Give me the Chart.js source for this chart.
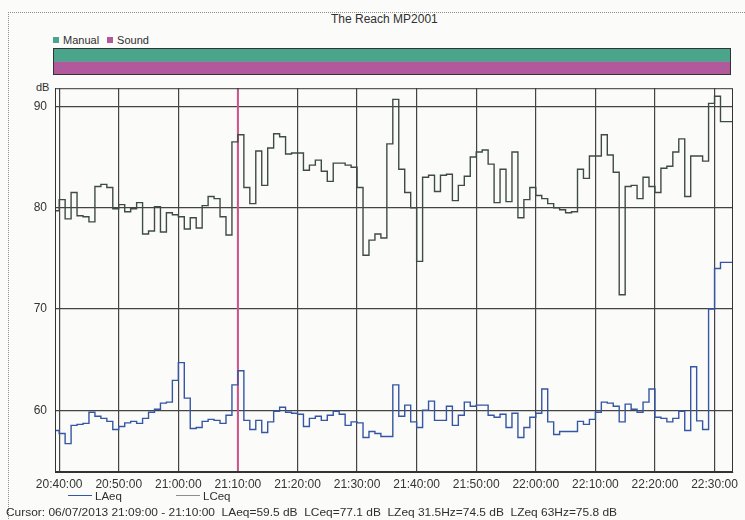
<!DOCTYPE html>
<html lang="en">
<head>
<meta charset="UTF-8" />
<title>The Reach MP2001</title>
<script src="https://cdn.jsdelivr.net/npm/chart.js"></script>
<style>
  html, body { margin: 0; padding: 0; background: #fbfbfa; }
  body {
    width: 745px; height: 520px; position: relative; overflow: hidden;
    font-family: "Liberation Sans", Arial, sans-serif; color: #2f2f2f;
  }
  #frame {
    position: absolute; left: 8px; top: 12px; width: 760px; height: 520px;
    border-top: 1px dotted #8c8c8c; border-left: 1px dotted #8c8c8c;
  }
  #title { position: absolute; left: 331px; top: 12px; font-size: 12px; }
  #bandLegend { position: absolute; left: 53px; top: 34px; font-size: 11px; }
  #bandLegend span.item { margin-right: 8px; }
  #bandLegend i {
    display: inline-block; width: 6px; height: 6px; margin-right: 4px;
    vertical-align: 1px;
  }
  #bandBox { position: absolute; left: 0; top: 47px; width: 745px; height: 29px; }
  #dbLabel { position: absolute; left: 36px; top: 81px; font-size: 11px; }
  #plotBox { position: absolute; left: 0; top: 73px; width: 745px; height: 427px; }
  #legend { position: absolute; left: 0; top: 490px; width: 745px; height: 14px; font-size: 11.5px; }
  #legend .item { position: absolute; top: 0; white-space: nowrap; }
  #legend b { display: inline-block; width: 24px; height: 0; vertical-align: 4px; margin-right: 3px; }
  #cursor {
    position: absolute; left: 6px; top: 506px; font-size: 11.5px;
    white-space: nowrap; transform-origin: 0 0;
  }
</style>
</head>
<body>
  <div id="frame"></div>
  <div id="title">The Reach MP2001</div>
  <div id="bandLegend"></div>
  <div id="bandBox"><canvas id="band"></canvas></div>
  <div id="dbLabel">dB</div>
  <div id="plotBox"><canvas id="plot"></canvas></div>
  <div id="legend"></div>
  <div id="cursor">Cursor: 06/07/2013 21:09:00 - 21:10:00&nbsp; LAeq=59.5 dB&nbsp; LCeq=77.1 dB&nbsp; LZeq 31.5Hz=74.5 dB&nbsp; LZeq 63Hz=75.8 dB</div>

<script>
  // minutes are counted from 20:40:00; first reading is the 20:39 minute
  const firstMinute = -1;
  const xMin = -0.7, xMax = 113.1;
  const yMin = 53.9, yMax = 91.8;

  const xTickMinutes = [0, 10, 20, 30, 40, 50, 60, 70, 80, 90, 100, 110];
  const xTickLabels = ["20:40:00", "20:50:00", "21:00:00", "21:10:00", "21:20:00", "21:30:00",
                       "21:40:00", "21:50:00", "22:00:00", "22:10:00", "22:20:00", "22:30:00"];
  const yTicks = [60, 70, 80, 90];
  const cursorMinute = 30; // 21:10:00

  // one value per minute, 20:39 .. 22:32
  const lcEq = [
    76.8,
    79.7, 80.8, 78.9, 81.5, 79.2, 79.1, 78.6, 82.1, 82.3, 82.0,
    79.9, 80.3, 79.6, 79.9, 80.5, 77.4, 77.7, 80.1, 77.6, 79.5,
    79.3, 79.1, 77.9, 79.0, 78.0, 80.2, 81.1, 80.9, 79.1, 77.3,
    86.5, 87.2, 82.0, 80.4, 85.6, 82.2, 85.9, 87.3, 87.0, 85.3,
    85.4, 85.4, 83.7, 84.2, 84.7, 83.6, 82.6, 84.4, 84.4, 84.2,
    84.0, 82.0, 75.3, 76.8, 77.4, 77.0, 86.3, 90.7, 83.8, 81.5,
    80.0, 74.7, 83.0, 83.2, 81.6, 83.2, 83.3, 80.7, 82.2, 83.1,
    85.0, 85.5, 85.7, 84.3, 80.5, 83.8, 80.6, 85.5, 79.0, 80.8,
    82.0, 81.2, 80.9, 80.4, 80.0, 79.8, 79.5, 79.6, 83.8, 82.9,
    85.1, 85.1, 87.2, 85.2, 83.5, 71.4, 82.1, 82.2, 80.9, 83.0,
    82.1, 81.5, 83.9, 84.1, 85.5, 86.8, 81.1, 85.1, 85.1, 84.6,
    90.3, 91.0, 88.5
  ];
  const laEq = [
    59.7,
    58.0, 57.7, 56.7, 58.5, 58.6, 58.7, 59.8, 59.4, 59.2, 58.9,
    58.1, 58.4, 58.75, 58.9, 58.7, 59.2, 59.8, 60.1, 60.7, 60.8,
    62.95, 64.7, 61.2, 58.2, 58.3, 58.9, 59.1, 59.0, 58.7, 59.5,
    62.5, 63.9, 59.0, 58.1, 59.0, 57.8, 58.85, 59.9, 60.3, 59.8,
    59.7, 59.6, 58.4, 59.2, 59.4, 59.0, 59.5, 59.9, 59.6, 58.5,
    58.85, 58.75, 57.3, 57.9, 57.7, 57.4, 57.4, 62.5, 59.4, 60.5,
    58.85, 58.3, 60.0, 60.9, 59.0, 59.0, 60.4, 58.5, 59.5, 60.8,
    60.4, 60.5, 60.5, 59.5, 59.3, 59.6, 58.3, 59.7, 57.3, 58.3,
    59.3, 59.7, 62.1, 58.85, 57.6, 57.9, 57.9, 57.9, 58.9, 58.6,
    59.1, 59.8, 60.8, 60.7, 60.4, 58.85, 60.6, 60.1, 59.8, 60.8,
    62.1, 59.3, 59.2, 58.85, 59.2, 59.9, 58.0, 64.3, 58.95, 58.1,
    70.0, 74.0, 74.6
  ];

  // status band: both rows cover the whole logged period
  const bandRows = ["Manual", "Sound"];
  const bandSpan = [firstMinute, firstMinute + lcEq.length];

  const gridColor = "#444";
  const laColor = "#3556a4";
  const lcColor = "#3e4b47";
  const manualColor = "#4aa58b";
  const soundColor = "#b2589d";
  const cursorColor = "#cf5485";
  const tickFont = { family: "'Liberation Sans', Arial, sans-serif", size: 12 };

  function toSteps(values) {
    const pts = values.map((v, i) => ({ x: firstMinute + i, y: v }));
    pts.push({ x: firstMinute + values.length, y: values[values.length - 1] });
    return pts;
  }

  const frameBox = {
    id: "frameBox",
    afterDraw(chart) {
      const a = chart.chartArea, c = chart.ctx;
      c.save();
      c.strokeStyle = "#333";
      c.lineWidth = 1;
      c.strokeRect(a.left + 0.5, a.top + 0.5, a.right - a.left - 1, a.bottom - a.top - 1);
      c.restore();
    }
  };

  const cursorLine = {
    id: "cursorLine",
    beforeDatasetsDraw(chart) {
      const a = chart.chartArea, c = chart.ctx;
      const x = chart.scales.x.getPixelForValue(cursorMinute);
      c.save();
      c.strokeStyle = cursorColor;
      c.lineWidth = 2;
      c.beginPath();
      c.moveTo(x, a.top);
      c.lineTo(x, a.bottom);
      c.stroke();
      c.restore();
    }
  };

  // status band
  const bandChart = new Chart(document.getElementById("band"), {
    type: "bar",
    data: {
      labels: bandRows,
      datasets: [
        { label: "Manual", data: [bandSpan, null], backgroundColor: manualColor, skipNull: true,
          barPercentage: 1, categoryPercentage: 1 },
        { label: "Sound", data: [null, bandSpan], backgroundColor: soundColor, skipNull: true,
          barPercentage: 1, categoryPercentage: 1 }
      ]
    },
    options: {
      indexAxis: "y",
      animation: false,
      responsive: true,
      maintainAspectRatio: false,
      layout: { padding: { left: 53, right: 14, top: 1, bottom: 1 } },
      plugins: { legend: { display: false }, tooltip: { enabled: false } },
      scales: {
        x: { type: "linear", min: xMin, max: xMax, display: false },
        y: { stacked: true, display: false }
      }
    },
    plugins: [frameBox]
  });

  document.getElementById("bandLegend").innerHTML = bandChart.data.datasets.map(d =>
    '<span class="item"><i style="background:' + d.backgroundColor + '"></i>' + d.label + '</span>'
  ).join("");

  // main level plot
  const plot = new Chart(document.getElementById("plot"), {
    type: "line",
    data: {
      datasets: [
        { label: "LAeq", data: toSteps(laEq), borderColor: laColor, borderWidth: 1.4,
          stepped: "after", pointRadius: 0, fill: false },
        { label: "LCeq", data: toSteps(lcEq), borderColor: lcColor, borderWidth: 1.4,
          stepped: "after", pointRadius: 0, fill: false }
      ]
    },
    options: {
      animation: false,
      responsive: true,
      maintainAspectRatio: false,
      layout: { padding: { left: 0, right: 12, top: 7, bottom: 0 } },
      plugins: { legend: { display: false }, tooltip: { enabled: false } },
      scales: {
        x: {
          type: "linear", min: xMin, max: xMax,
          afterBuildTicks: s => { s.ticks = xTickMinutes.map(v => ({ value: v })); },
          afterFit: s => { s.height = 28; },
          ticks: {
            autoSkip: false, maxRotation: 0, padding: 5, color: "#333", font: tickFont,
            callback: v => xTickLabels[xTickMinutes.indexOf(v)]
          },
          grid: { color: gridColor, lineWidth: 1.2, drawTicks: false },
          border: { color: "#333", width: 1 }
        },
        y: {
          min: yMin, max: yMax,
          afterBuildTicks: s => { s.ticks = yTicks.map(v => ({ value: v })); },
          afterFit: s => { s.width = 55; },
          ticks: { padding: 8, color: "#333", font: tickFont },
          grid: { color: gridColor, lineWidth: 1.2, drawTicks: false },
          border: { color: "#333", width: 1 }
        }
      }
    },
    plugins: [cursorLine, frameBox]
  });

  // bottom legend, built from the plot datasets
  const legendPos = [68, 176];
  document.getElementById("legend").innerHTML = plot.data.datasets.map((d, i) =>
    '<span class="item" style="left:' + legendPos[i] + 'px"><b style="border-top:1.5px solid ' +
    (i === 0 ? d.borderColor : "#8a8f8d") + '"></b>' + d.label + '</span>'
  ).join("");

  // condense the cursor line to the width it has in the printout
  const cur = document.getElementById("cursor");
  cur.style.transform = "scaleX(" + (611 / cur.getBoundingClientRect().width) + ")";
</script>
</body>
</html>
